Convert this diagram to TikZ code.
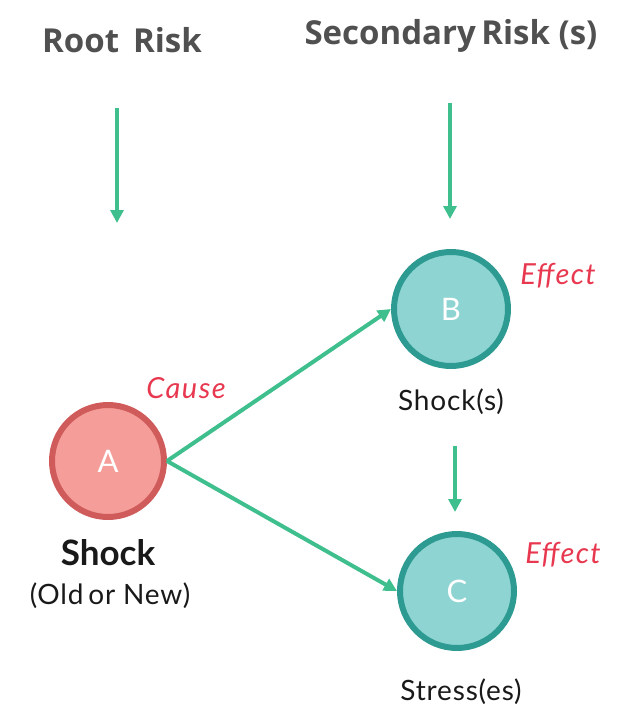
\documentclass[tikz,border=0pt]{standalone}
\usepackage{fontspec}
\setmainfont{Lato}
\newfontfamily\headfont{Open Sans}
\usetikzlibrary{arrows.meta}
\definecolor{arrowgreen}{HTML}{40BF8E}
\definecolor{causered}{HTML}{E8384F}
\definecolor{titlegray}{HTML}{505050}
\definecolor{redfill}{HTML}{F49D99}
\definecolor{redline}{HTML}{CF5B5B}
\definecolor{tealfill}{HTML}{8ED4D2}
\definecolor{tealline}{HTML}{2E9B93}
\tikzset{
  title/.style={font=\headfont\bfseries\fontsize{33}{36}\selectfont, text=titlegray, inner sep=0pt},
  flow/.style={draw=arrowgreen, line width=4pt, -{Triangle[width=13pt,length=13pt]}},
  redcircle/.style={circle, draw=redline, fill=redfill, line width=6pt, minimum size=112pt, inner sep=0pt, text=white, font=\fontsize{31}{31}\selectfont},
  tealcircle/.style={circle, draw=tealline, fill=tealfill, line width=6pt, minimum size=114pt, inner sep=0pt, text=white, font=\fontsize{31}{31}\selectfont},
  tag/.style={text=causered, font=\itshape\fontsize{29}{32}\selectfont\addfontfeature{LetterSpace=5}, inner sep=0pt},
  label/.style={font=\fontsize{28}{32}\selectfont\addfontfeature{LetterSpace=3}, inner sep=0pt, text=black!90},
}
\begin{document}
\begin{tikzpicture}[x=1pt,y=-1pt]
\useasboundingbox (0,0) rectangle (621,720);
% titles
\node[title] (root) at (122,40) {Root\ \,Risk};
\node[title] (sec) at (451,36) {Secondary\,Risk (s)};
% circles
\node[redcircle] (A) at (108,461) {A};
\node[tealcircle] (B) at (451,309) {B};
\node[tealcircle] (C) at (457,591) {C};
% labels
\node[tag] (cause) at (186,388) {Cause};
\node[tag] (effB) at (558,276) {Effect};
\node[tag] (effC) at (563,555) {Effect};
\node[label, font=\bfseries\fontsize{35}{38}\selectfont] (shock) at (108,553) {Shock};
\node[label] (oldnew) at (110,596) {(Old\,or New)};
\node[label] (shocks) at (451,402) {Shock(s)};
\node[label] (stress) at (461,692) {Stress(es)};
% vertical arrows
\coordinate (r1) at (117,108);
\coordinate (r2) at (117,223);
\coordinate (s1) at (450,103);
\coordinate (s2) at (450,219);
\coordinate (m1) at (455,446);
\coordinate (m2) at (455,512);
\draw[flow] (r1) -- (r2);
\draw[flow] (s1) -- (s2);
\draw[flow] (m1) -- (m2);
% diagonal arrows
\draw[flow] (A.east) -- (B.west);
\draw[flow] (A.east) -- (C.west);
\end{tikzpicture}
\end{document}
